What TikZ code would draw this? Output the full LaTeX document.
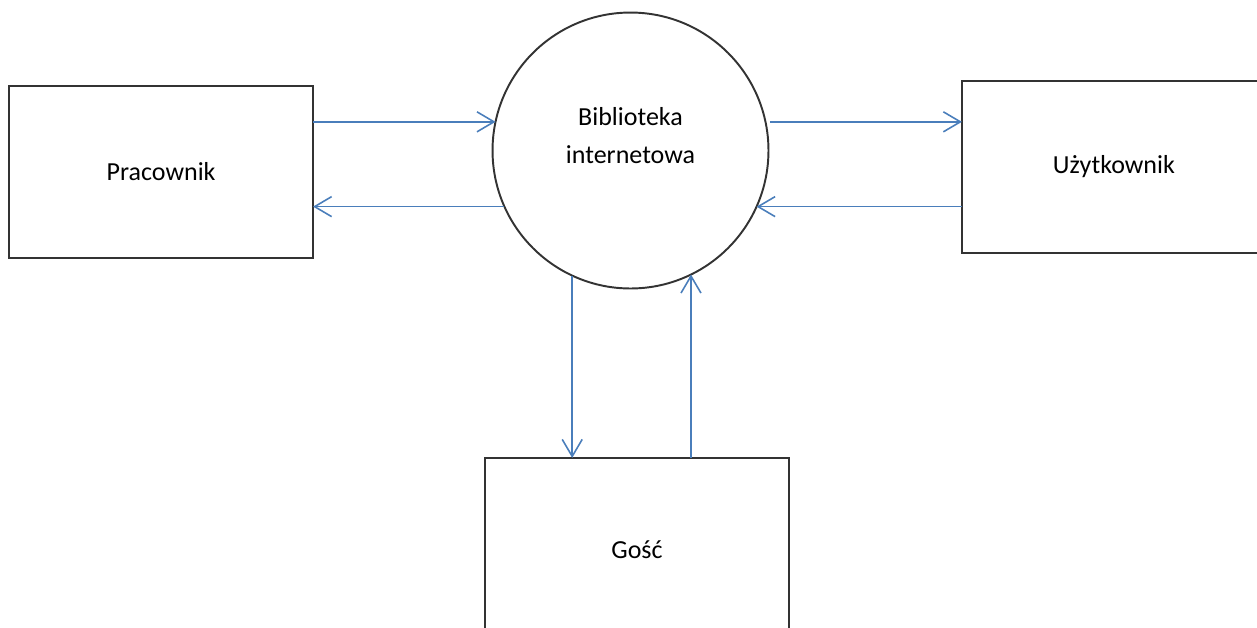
\documentclass[tikz,border=0pt]{standalone}
\usepackage{fontspec}
\setmainfont{Carlito}
\usetikzlibrary{positioning,arrows.meta}
\definecolor{flowblue}{RGB}{74,126,187}
\tikzset{
  ent/.style={draw=black!80, line width=1.1pt, minimum width=6.08cm, minimum height=3.44cm, inner sep=0pt, outer sep=0pt, font=\fontsize{14.8}{21.6}\selectfont},
  proc/.style={draw=black!80, line width=1.1pt, circle, minimum size=5.52cm, inner sep=0pt, outer sep=0pt},
  lbl/.style={align=center, font=\fontsize{14.8}{21.6}\selectfont},
  fl/.style={-{Straight Barb[length=3.4mm, width=4mm]}, flowblue, line width=0.9pt},
}

\begin{document}
\begin{tikzpicture}[x=0.02cm, y=-0.02cm]
\useasboundingbox (0,0) rectangle (1257,627);
\node[proc] (bib) at (630.5,150.5) {};
\node[lbl] (bibtxt) at ([yshift=0.3cm]bib.center) {Biblioteka\\internetowa};
\node[ent, left=3.59cm of bib, yshift=-0.43cm] (prac) {Pracownik};
\node[ent, right=3.87cm of bib, yshift=-0.33cm] (uzyt) {Użytkownik};
\node[ent, below=3.39cm of bib, xshift=0.13cm, minimum height=3.68cm] (gosc) {Gość};
\draw[fl] (prac.east |- bib.168.5) -- (bib.168.5);
\draw[fl] (bib.204) -- (prac.east |- bib.204);
\draw[fl] ([xshift=0.1cm]bib.12) -- (uzyt.west |- bib.12);
\draw[fl] (uzyt.west |- bib.336) -- (bib.336);
\draw[fl] (bib.245.4) -- (bib.245.4 |- gosc.north);
\draw[fl] (bib.296.5 |- gosc.north) -- (bib.296.5);
\end{tikzpicture}
\end{document}
